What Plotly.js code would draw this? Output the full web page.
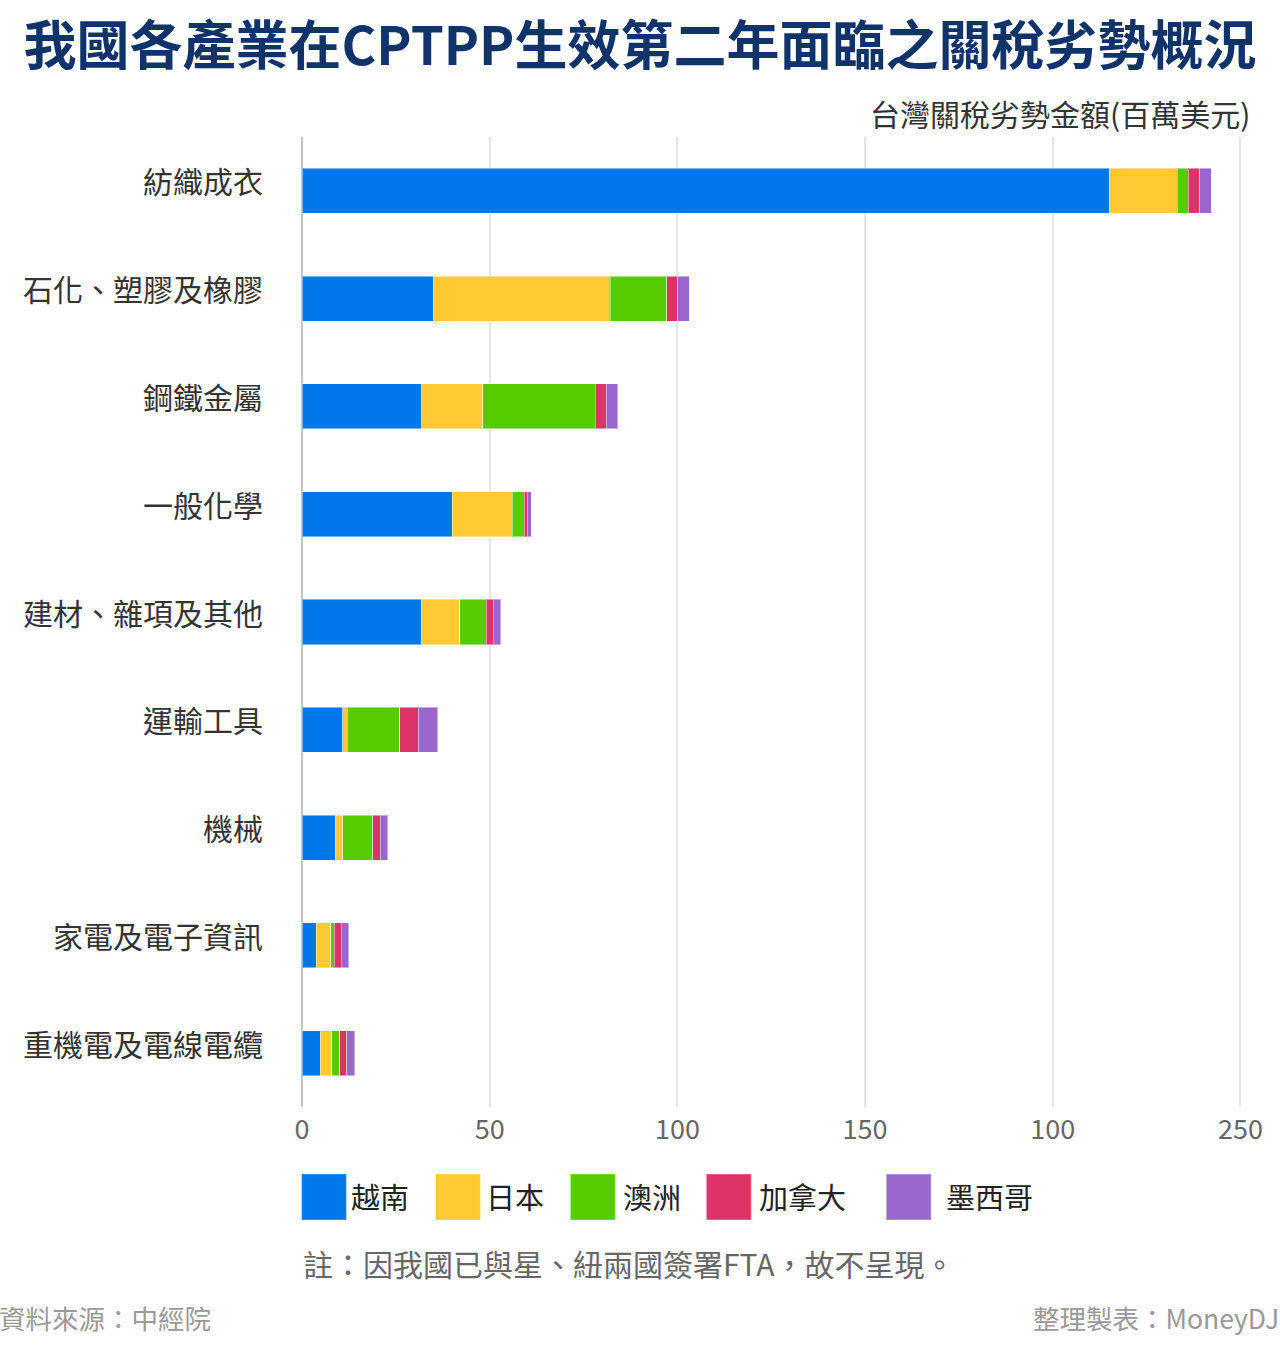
<!DOCTYPE html>
<html>
<head>
<meta charset="utf-8">
<script src="https://cdn.plot.ly/plotly-3.0.1.min.js"></script>
<style>
html,body{margin:0;padding:0;background:#fff;}
#chart{width:1280px;height:1355px;}
</style>
</head>
<body>
<div id="chart"></div>
<script>
// ---- data ----
const categories = ['紡織成衣','石化、塑膠及橡膠','鋼鐵金屬','一般化學','建材、雜項及其他','運輸工具','機械','家電及電子資訊','重機電及電線電纜'];
const seriesNames = ['越南','日本','澳洲','加拿大','墨西哥'];
const vietnam = [215.1, 35.0, 31.9, 40.0, 31.8, 10.9, 8.9, 3.8, 4.9];
const japan   = [18.1, 47.1, 16.2, 16.0, 10.2, 1.1, 2.0, 3.9, 3.0];
const australia = [2.9, 15.1, 30.0, 3.2, 7.1, 14.0, 8.0, 0.9, 2.1];
const canada  = [3.0, 2.9, 3.0, 0.8, 1.9, 5.0, 2.0, 1.9, 1.9];
const mexico  = [3.1, 3.0, 3.0, 1.1, 2.0, 5.1, 2.0, 2.0, 2.1];
const tickValues = [0, 50, 100, 150, 200, 250];
const tickLabels = ['0', '50', '100', '150', '100', '250'];

const seriesValues = [vietnam, japan, australia, canada, mexico];
const colors = ['#0077EA', '#FFC933', '#55CC00', '#DD3366', '#9966CC'];

const W = 1280, H = 1355;
const mL = 301.5, mR = 32, mT = 137, mB = 248;
const plotW = W - mL - mR, plotH = H - mT - mB;
const px = x => (x - mL) / plotW;
const py = y => 1 - (y - mT) / plotH;

const FONT = '"Noto Sans CJK TC", "Noto Sans", sans-serif';

const traces = seriesNames.map((name, i) => ({
  type: 'bar',
  orientation: 'h',
  name: name,
  y: categories,
  x: seriesValues[i],
  width: 0.418,
  marker: {color: colors[i], line: {color: 'rgba(255,255,255,0.45)', width: 1}},
  hoverinfo: 'x+name'
}));

const shapes = [];
const annotations = [];

// subtitle
annotations.push({
  xref: 'paper', yref: 'paper', x: px(1252), y: py(113),
  xanchor: 'right', yanchor: 'middle', showarrow: false,
  text: '台灣關稅劣勢金額(百萬美元)',
  font: {family: FONT, size: 30, color: '#333'}
});

// legend
const legSq = [301, 435, 570, 706, 886];
const legTx = [349, 484, 621, 757, 944];
seriesNames.forEach((name, i) => {
  shapes.push({
    type: 'rect', xref: 'paper', yref: 'paper',
    x0: px(legSq[i]), x1: px(legSq[i] + 45), y0: py(1174), y1: py(1220),
    fillcolor: colors[i], line: {width: 1, color: 'rgba(255,255,255,0.4)'}
  });
  annotations.push({
    xref: 'paper', yref: 'paper', x: px(legTx[i]), y: py(1196),
    xanchor: 'left', yanchor: 'middle', showarrow: false,
    text: name, font: {family: FONT, size: 29, color: '#222'}
  });
});

// note
annotations.push({
  xref: 'paper', yref: 'paper', x: px(300), y: py(1263),
  xanchor: 'left', yanchor: 'middle', showarrow: false,
  text: '註：因我國已與星、紐兩國簽署FTA，故不呈現。',
  font: {family: FONT, size: 30, color: '#666'}
});
// footer
annotations.push({
  xref: 'paper', yref: 'paper', x: px(-4), y: py(1317),
  xanchor: 'left', yanchor: 'middle', showarrow: false,
  text: '資料來源：中經院',
  font: {family: FONT, size: 26.5, color: '#999'}
});
annotations.push({
  xref: 'paper', yref: 'paper', x: px(1281), y: py(1317),
  xanchor: 'right', yanchor: 'middle', showarrow: false,
  text: '整理製表：MoneyDJ',
  font: {family: FONT, size: 26.5, color: '#999'}
});

const layout = {
  width: W, height: H,
  margin: {l: mL, r: mR, t: mT, b: mB, pad: 0},
  paper_bgcolor: '#fff', plot_bgcolor: '#fff',
  barmode: 'stack',
  showlegend: false,
  title: {
    text: '<b>我國各產業在CPTPP生效第二年面臨之關稅劣勢概況</b>',
    x: 0.5, xref: 'container', xanchor: 'center',
    y: 1 - 46 / H, yref: 'container', yanchor: 'middle',
    font: {family: FONT, size: 53, color: '#10336a'}
  },
  xaxis: {
    range: [0, 252],
    tickvals: tickValues, ticktext: tickLabels,
    showgrid: true, gridcolor: '#e6e6e6', gridwidth: 2,
    zeroline: true, zerolinecolor: '#c4c4c4', zerolinewidth: 2,
    showline: false, ticks: '', ticklabelstandoff: 4,
    tickfont: {family: FONT, size: 27, color: '#666'},
    fixedrange: true
  },
  yaxis: {
    autorange: 'reversed',
    type: 'category',
    showgrid: false, zeroline: false, showline: false,
    ticks: '', ticklabelstandoff: 38, ticklabelshift: 8,
    tickfont: {family: FONT, size: 30, color: '#333'},
    fixedrange: true
  },
  shapes: shapes,
  annotations: annotations
};

Plotly.newPlot('chart', traces, layout, {displayModeBar: false, staticPlot: true});
</script>
</body>
</html>
